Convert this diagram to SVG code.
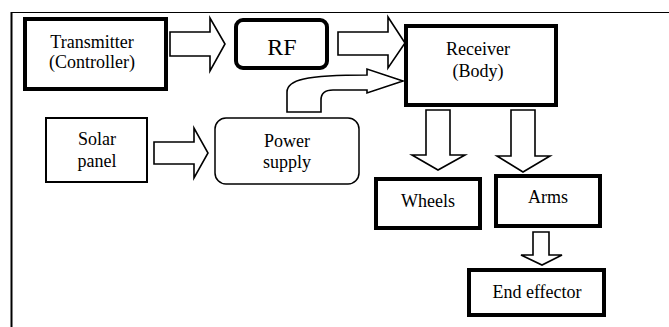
<svg xmlns="http://www.w3.org/2000/svg" width="669" height="327" viewBox="0 0 669 327">
<style>
text{font-family:'Liberation Serif','Times New Roman',Times,'DejaVu Serif',serif;font-size:18px;fill:#000;text-anchor:middle}
.thick{fill:#fff;stroke:#000;stroke-width:4}
.mid{fill:#fff;stroke:#000;stroke-width:2}
.thin{fill:#fff;stroke:#000;stroke-width:1.5}
.arr{fill:#fff;stroke:#000;stroke-width:1.6;stroke-linejoin:miter}
</style>
<rect width="669" height="327" fill="#fff"/>
<g id="frame">
<line x1="11.5" y1="12" x2="11.5" y2="327" stroke="#000" stroke-width="2"/>
<line x1="11" y1="12.5" x2="669" y2="12.5" stroke="#000" stroke-width="1.2"/>
</g>
<g id="connectors">
<path class="arr" d="M170,32 H210 V18 L225,44 L210,71 V56 H170 Z"/>
<path class="arr" d="M338,32 H388 V17 L405,43 L388,68 V55 H338 Z"/>
<path class="arr" d="M287,112 V92 C287,80 305,75 367,75 V69 L403,81 L367,93 V90 H333 C325,90 321,94 321,100 V112 Z"/>
<path class="arr" d="M154,142 H194 V128 L208,153 L194,178 V164 H154 Z"/>
<path class="arr" d="M426,110 V155 H412 L438,170 L465,155 H450 V110 Z"/>
<path class="arr" d="M511,110 V156 H497 L523,172 L550,156 H535 V110 Z"/>
<path class="arr" d="M533,232 V255 H521 L542,265 L562,255 H549 V232 Z"/>
</g>
<g id="transmitter">
<rect class="thick" x="25" y="19" width="141" height="70"/>
<text x="92" y="48" font-family="Liberation Serif, serif">Transmitter</text>
<text x="92" y="68">(Controller)</text>
</g>
<g id="rf">
<rect class="thick" x="236" y="20" width="91" height="48" rx="7"/>
<text x="282" y="55" style="font-size:24px">RF</text>
</g>
<g id="receiver">
<rect class="thick" x="406" y="26" width="150" height="79"/>
<text x="478" y="55">Receiver</text>
<text x="478" y="77">(Body)</text>
</g>
<g id="solar">
<rect class="mid" x="46" y="118" width="101" height="64"/>
<text x="97" y="145">Solar</text>
<text x="97" y="167">panel</text>
</g>
<g id="power">
<rect class="thin" x="215" y="118" width="144" height="66" rx="11"/>
<text x="287" y="147">Power</text>
<text x="287" y="168">supply</text>
</g>
<g id="wheels">
<rect class="thick" x="376" y="179" width="104" height="49"/>
<text x="428" y="207">Wheels</text>
</g>
<g id="arms">
<rect class="thick" x="496" y="176" width="104" height="50"/>
<text x="548" y="203">Arms</text>
</g>
<g id="endeffector">
<rect class="thick" x="469" y="270" width="135" height="45"/>
<text x="537" y="298">End effector</text>
</g>
</svg>
